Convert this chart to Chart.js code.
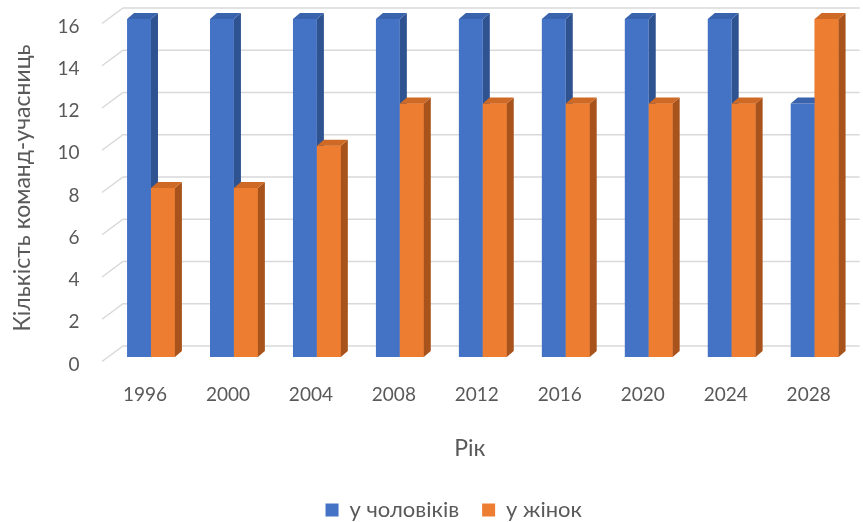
<!DOCTYPE html>
<html>
<head>
<meta charset="utf-8">
<script src="https://cdn.jsdelivr.net/npm/chart.js@4/dist/chart.umd.min.js"></script>
<style>
  html, body { margin: 0; padding: 0; background: #fff; }
  #chart { display: block; }
</style>
</head>
<body>
<canvas id="chart" width="863" height="522"></canvas>
<script>
const years = ['1996', '2000', '2004', '2008', '2012', '2016', '2020', '2024', '2028'];
const menTeams = [16, 16, 16, 16, 16, 16, 16, 16, 12];
const womenTeams = [8, 8, 10, 12, 12, 12, 12, 12, 16];
const seriesNames = ['у чоловіків', 'у жінок'];

const FONT = 'Lato, "Open Sans", sans-serif';
const TEXT = '#595959';
// faces of the pseudo-3D columns: front, side, top
const faces = [
    { front: '#4472C4', side: '#2F5291', top: '#3A63AE' },
    { front: '#ED7D31', side: '#A9531C', top: '#CE6A25' }
];
const DX = 7, DY = 6;

const floorGrid = {
    id: 'floorGrid',
    beforeDatasetsDraw(chart) {
        const { ctx, chartArea: a } = chart;
        const ys = chart.scales.y;
        ctx.save();
        ctx.strokeStyle = '#D9D9D9';
        ctx.lineWidth = 1.5;
        ys.ticks.forEach(t => {
            const y = ys.getPixelForValue(t.value);
            ctx.beginPath();
            ctx.moveTo(a.left - 7.5, y + 4.5);
            ctx.lineTo(a.left + 13.5, y - 11);
            ctx.lineTo(a.right + 3.5, y - 11);
            ctx.stroke();
        });
        ctx.restore();
    }
};

const columns3d = {
    id: 'columns3d',
    afterDatasetsDraw(chart) {
        const ctx = chart.ctx;
        ctx.save();
        chart.data.datasets.forEach((ds, di) => {
            const f = faces[di];
            chart.getDatasetMeta(di).data.forEach(bar => {
                const { x, y, base, width } = bar.getProps(['x', 'y', 'base', 'width'], true);
                const l = x - width / 2, r = x + width / 2;
                if (di > 0) {
                    ctx.fillStyle = f.front;
                    ctx.fillRect(l, y, width, base - y);
                }
                ctx.fillStyle = f.side;
                ctx.beginPath();
                ctx.moveTo(r, y);
                ctx.lineTo(r + DX, y - DY);
                ctx.lineTo(r + DX, base - DY);
                ctx.lineTo(r, base);
                ctx.closePath();
                ctx.fill();
                ctx.fillStyle = f.top;
                ctx.beginPath();
                ctx.moveTo(l, y);
                ctx.lineTo(l + DX, y - DY);
                ctx.lineTo(r + DX, y - DY);
                ctx.lineTo(r, y);
                ctx.closePath();
                ctx.fill();
            });
        });
        ctx.restore();
    }
};

// nudge the legend to where the original sits
const legendShift = {
    id: 'legendShift',
    afterLayout(chart) {
        const lg = chart.legend;
        lg.left += 25; lg.right += 25;
        lg.top += 9; lg.bottom += 9;
    }
};

new Chart(document.getElementById('chart'), {
    type: 'bar',
    data: {
        labels: years,
        datasets: [
            { label: seriesNames[0], data: menTeams, backgroundColor: faces[0].front },
            { label: seriesNames[1], data: womenTeams, backgroundColor: faces[1].front }
        ]
    },
    options: {
        responsive: false,
        animation: false,
        layout: { padding: { top: 19, right: 5.5, left: 0, bottom: 0 } },
        datasets: { bar: { barPercentage: 1, categoryPercentage: 0.577, borderWidth: 0 } },
        plugins: {
            tooltip: { enabled: false },
            legend: {
                position: 'bottom',
                labels: {
                    color: TEXT,
                    font: { family: FONT, size: 22 },
                    boxWidth: 13,
                    boxHeight: 13,
                    padding: 23
                }
            }
        },
        scales: {
            x: {
                grid: { display: false, drawTicks: false },
                border: { display: false },
                ticks: { color: TEXT, font: { family: FONT, size: 19 }, labelOffset: -6, padding: 26 },
                // trailing spaces pull the centred title left like the original
                title: { display: true, text: 'Рік\u2002\u2002\u2009', color: TEXT, font: { family: FONT, size: 23 }, padding: { top: 0, bottom: 5 } },
                afterFit(s) { s.height = 110; }
            },
            y: {
                min: 0,
                max: 16,
                grid: { display: false, drawTicks: false },
                border: { display: false },
                ticks: { stepSize: 2, color: TEXT, font: { family: FONT, size: 19 }, labelOffset: 7.5, padding: 30 },
                title: { display: true, text: 'Кількість команд-учасниць', color: TEXT, font: { family: FONT, size: 23 }, padding: { top: 9, bottom: 0 } },
                afterFit(s) {
                    s.width = 109.5;
                    s.paddingTop = 0;
                    s.paddingBottom = 0;
                }
            }
        }
    },
    plugins: [floorGrid, columns3d, legendShift]
});
</script>
</body>
</html>
